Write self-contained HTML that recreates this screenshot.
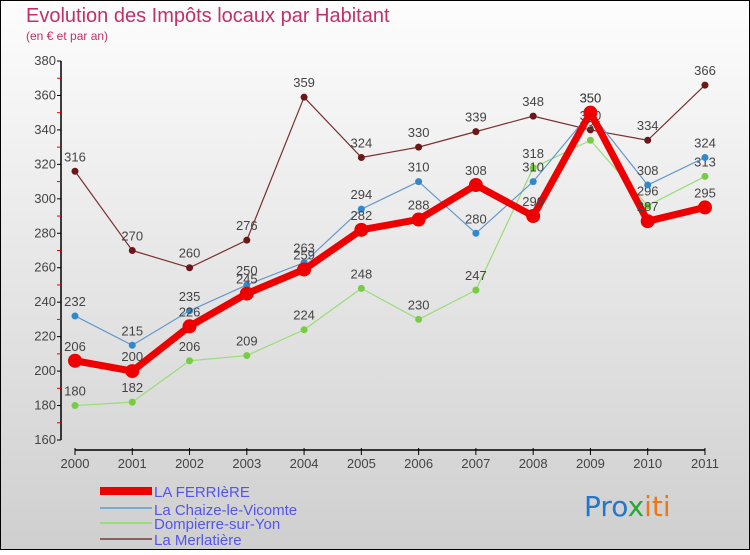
<!DOCTYPE html>
<html><head><meta charset="utf-8"><style>
body{margin:0;width:750px;height:550px;overflow:hidden;font-family:"Liberation Sans",sans-serif}
</style></head><body>
<svg width="750" height="550" xmlns="http://www.w3.org/2000/svg">
<defs><linearGradient id="bg" x1="0" y1="0" x2="0" y2="1"><stop offset="0" stop-color="#fdfdfd"/><stop offset="1" stop-color="#cfcfcf"/></linearGradient></defs>
<rect x="0.5" y="0.5" width="749" height="549" fill="url(#bg)" stroke="#000"/>
<text x="26" y="22" font-size="20" fill="#c0306a">Evolution des Impôts locaux par Habitant</text>
<text x="26" y="40" font-size="12" fill="#c0306a">(en € et par an)</text>
<g id="axes"></g>
<g id="series"></g>
<g id="legend" font-size="15" fill="#5555ee">
<rect x="100" y="487" width="52" height="8" fill="#e00"/>
<text x="154" y="497" fill="#5555ee">LA FERRIèRE</text>
<rect x="100" y="507" width="52" height="2" fill="#7aaad0"/>
<text x="154" y="515" fill="#5555ee">La Chaize-le-Vicomte</text>
<rect x="100" y="522" width="52" height="2" fill="#99dd77"/>
<text x="154" y="529" fill="#5555ee">Dompierre-sur-Yon</text>
<rect x="100" y="538" width="52" height="2" fill="#8a6060"/>
<text x="154" y="545" fill="#5555ee">La Merlatière</text>
</g>
<g font-size="28" font-family="'DejaVu Sans',sans-serif">
<text x="584" y="516"><tspan fill="#2277cc">Pro</tspan><tspan fill="#22aa33">x</tspan><tspan fill="#ee7711">iti</tspan></text>
</g>
</svg>
<script>
const years=["2000","2001","2002","2003","2004","2005","2006","2007","2008","2009","2010","2011"];
const yTicks=[160,180,200,220,240,260,280,300,320,340,360,380];
const ferriere=[206,200,226,245,259,282,288,308,290,350,287,295];
const chaize=[232,215,235,250,263,294,310,280,310,350,308,324];
const dompierre=[180,182,206,209,224,248,230,247,318,334,296,313];
const merlatiere=[316,270,260,276,359,324,330,339,348,340,334,366];
const NS="http://www.w3.org/2000/svg";
const X=i=>75+i*57.27;
const Y=v=>440-(v-160)*(379/220);
function el(t,a,p){const e=document.createElementNS(NS,t);for(const k in a)e.setAttribute(k,a[k]);p.appendChild(e);return e;}
const ax=document.getElementById('axes');
const yl=el('line',{x1:61,y1:61,x2:61,y2:440,stroke:'#000','stroke-width':1.5},ax);


yTicks.forEach((v,i)=>{
 el('line',{x1:57,x2:61,y1:Y(v),y2:Y(v),stroke:'#000'},ax);
 if(i<yTicks.length-1) el('line',{x1:57,x2:61,y1:Y(v+10),y2:Y(v+10),stroke:'#e00'},ax);
 const t=el('text',{x:56,y:Y(v)+4,'text-anchor':'end','font-size':13,fill:'#444'},ax);t.textContent=v;
 
 
});
const xl=el('line',{x1:75,y1:450,x2:X(11),y2:450,stroke:'#000','stroke-width':1.5},ax);


years.forEach((y,i)=>{
 el('line',{x1:X(i),x2:X(i),y1:448,y2:455,stroke:'#000'},ax);
 const t=el('text',{x:X(i),y:468,'text-anchor':'middle','font-size':13,fill:'#444'},ax);t.textContent=y;
 
 
});
const sg=document.getElementById('series');
function series(data,color,dot,w,r,name){
 const g=el('g',{},sg);
 
 
 el('polyline',{points:data.map((v,i)=>X(i)+','+Y(v)).join(' '),fill:'none',stroke:color,'stroke-width':w,'stroke-linejoin':'round'},g);
 data.forEach((v,i)=>{
  const c=el('circle',{cx:X(i),cy:Y(v),r:r,fill:dot},g);
  
  
  const t=el('text',{x:X(i),y:Y(v)-10,'text-anchor':'middle','font-size':13,fill:'#444'},g);t.textContent=v;
  
  
 });
}
series(merlatiere,'#7a3030','#6a1818',1.2,3.5,'series-merlatiere');
series(dompierre,'#99dd77','#77cc44',1.2,3.5,'series-dompierre');
series(chaize,'#6699cc','#3388cc',1.2,3.5,'series-chaize');
series(ferriere,'#ee0000','#ee0000',7,7,'series-la-ferriere');
</script>
</body></html>
